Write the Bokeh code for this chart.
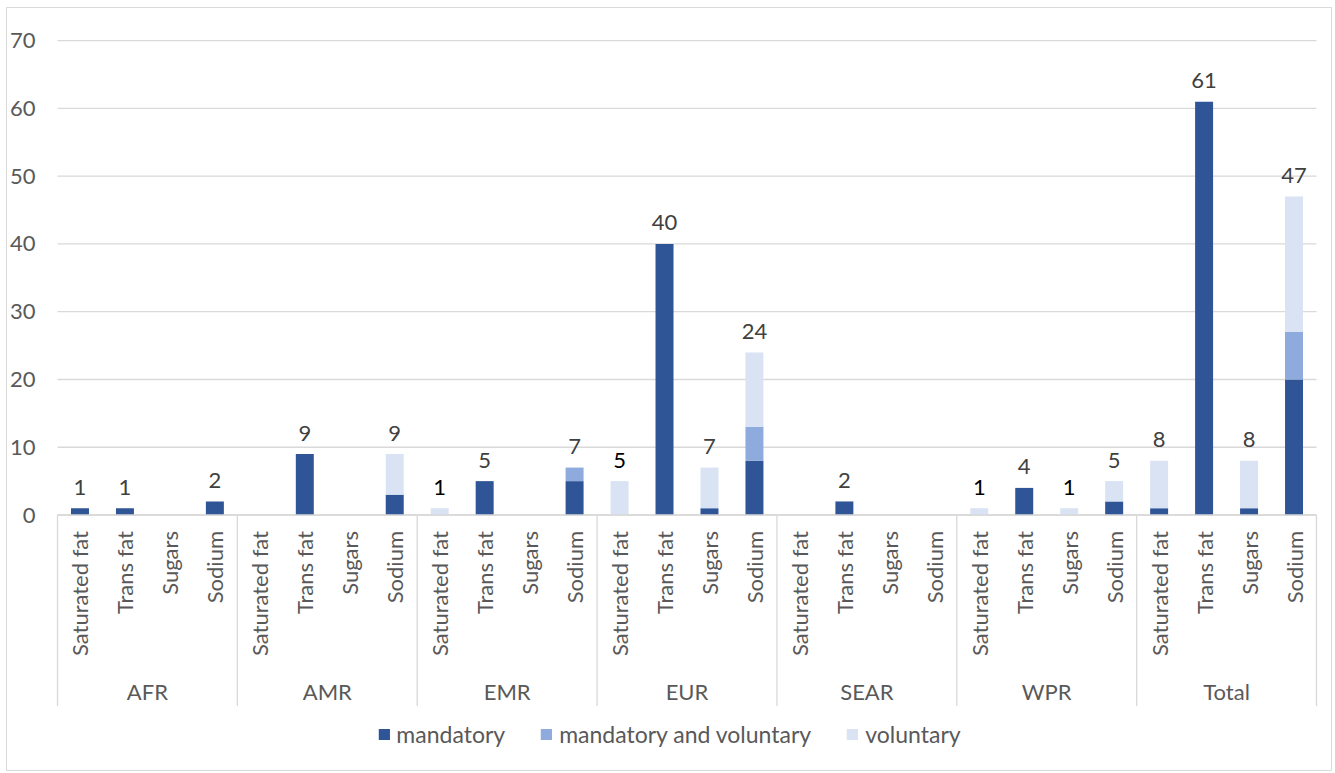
from bokeh.plotting import figure
from bokeh.models import ColumnDataSource, Range1d, Legend, LegendItem
from bokeh.core.properties import value
from bokeh.embed import file_html
from bokeh.resources import INLINE
import math

# ---------------- data ----------------
regions = ["AFR", "AMR", "EMR", "EUR", "SEAR", "WPR", "Total"]
nutrients = ["Saturated fat", "Trans fat", "Sugars", "Sodium"]
mandatory = [1, 1, 0, 2,  0, 9, 0, 3,  0, 5, 0, 5,  0, 40, 1, 8,  0, 2, 0, 0,  0, 4, 0, 2,  1, 61, 1, 20]
mand_and_vol = [0, 0, 0, 0,  0, 0, 0, 0,  0, 0, 0, 2,  0, 0, 0, 5,  0, 0, 0, 0,  0, 0, 0, 0,  0, 0, 0, 7]
voluntary = [0, 0, 0, 0,  0, 0, 0, 6,  1, 0, 0, 0,  5, 0, 6, 11,  0, 0, 0, 0,  1, 0, 1, 3,  7, 0, 7, 20]
series_names = ["mandatory", "mandatory and voluntary", "voluntary"]
y_ticks = [0, 10, 20, 30, 40, 50, 60, 70]

# ---------------- style ----------------
colors = ["#2F5597", "#8FAADC", "#DAE3F3"]
FONT = "Lato"
FS = "22px"
FS_LEG = "23px"
AXIS_TXT = "#595959"
LABEL_TXT = "#404040"
GRID = "#D9D9D9"

n = len(regions) * len(nutrients)
xs = [i + 0.5 for i in range(n)]

src = ColumnDataSource(dict(x=xs, mandatory=mandatory, mv=mand_and_vol, voluntary=voluntary))

p = figure(width=1335, height=773, output_backend="svg", toolbar_location=None,
           x_range=Range1d(-1.1343, 28.3336), y_range=Range1d(-37.706, 74.897),
           x_axis_location=None, y_axis_location=None,
           min_border_left=6, min_border_right=4, min_border_top=7, min_border_bottom=3,
           background_fill_color="white", border_fill_color="white")
p.xgrid.visible = False
p.ygrid.visible = False
p.outline_line_color = GRID
p.outline_line_width = 1

# gridlines
p.segment(x0=[0] * len(y_ticks), x1=[n] * len(y_ticks), y0=y_ticks, y1=y_ticks,
          line_color=GRID, line_width=1.3)
# y tick labels
p.text(x=[0] * len(y_ticks), y=y_ticks, text=[str(t) for t in y_ticks],
       text_align="right", text_baseline="middle", x_offset=-22,
       text_font=value(FONT), text_font_size=FS, text_color=AXIS_TXT)

# group separators
ng = len(regions)
sep_x = [g * len(nutrients) for g in range(ng + 1)]
p.segment(x0=sep_x, x1=sep_x, y0=[0] * len(sep_x), y1=[-28.2] * len(sep_x),
          line_color=GRID, line_width=1.3)

# bars
rs = p.vbar_stack(["mandatory", "mv", "voluntary"], x="x", width=0.4, source=src,
                  color=colors, line_color=None)

# nutrient labels
sub_labels = [nutrients[i % len(nutrients)] for i in range(n)]
p.text(x=xs, y=[0] * n, text=sub_labels, angle=math.pi / 2,
       text_align="right", text_baseline="middle", y_offset=16,
       text_font=value(FONT), text_font_size=FS, text_color=AXIS_TXT)

# group labels
gx = [g * len(nutrients) + len(nutrients) / 2 for g in range(ng)]
p.text(x=gx, y=[0] * ng, text=regions, text_align="center", text_baseline="middle",
       y_offset=176, text_font=value(FONT), text_font_size=FS, text_color=AXIS_TXT)

# data labels (totals)
lx, ly, lt, lc = [], [], [], []
for i in range(n):
    tot = mandatory[i] + mand_and_vol[i] + voluntary[i]
    if tot > 0:
        lx.append(xs[i]); ly.append(tot); lt.append(str(tot))
        lc.append("#000000" if mandatory[i] == 0 and mand_and_vol[i] == 0 else LABEL_TXT)
lsrc = ColumnDataSource(dict(x=lx, y=ly, t=lt, c=lc))
p.text(x="x", y="y", text="t", text_color="c", source=lsrc, text_align="center",
       text_baseline="middle", y_offset=-21, text_font=value(FONT), text_font_size=FS)

# baseline
p.segment(x0=[0], x1=[n], y0=[0], y1=[0], line_color=GRID, line_width=1.3)

legend = Legend(items=[LegendItem(label=series_names[k], renderers=[rs[k]]) for k in range(3)],
                orientation="horizontal", location="bottom_center",
                glyph_width=14, glyph_height=14, label_standoff=6, spacing=34,
                padding=0, margin=22, border_line_color=None, background_fill_alpha=0,
                label_text_font=FONT, label_text_font_size=FS_LEG, label_text_color=AXIS_TXT)
p.add_layout(legend, "center")

open("out.html", "w").write(file_html(p, INLINE))
